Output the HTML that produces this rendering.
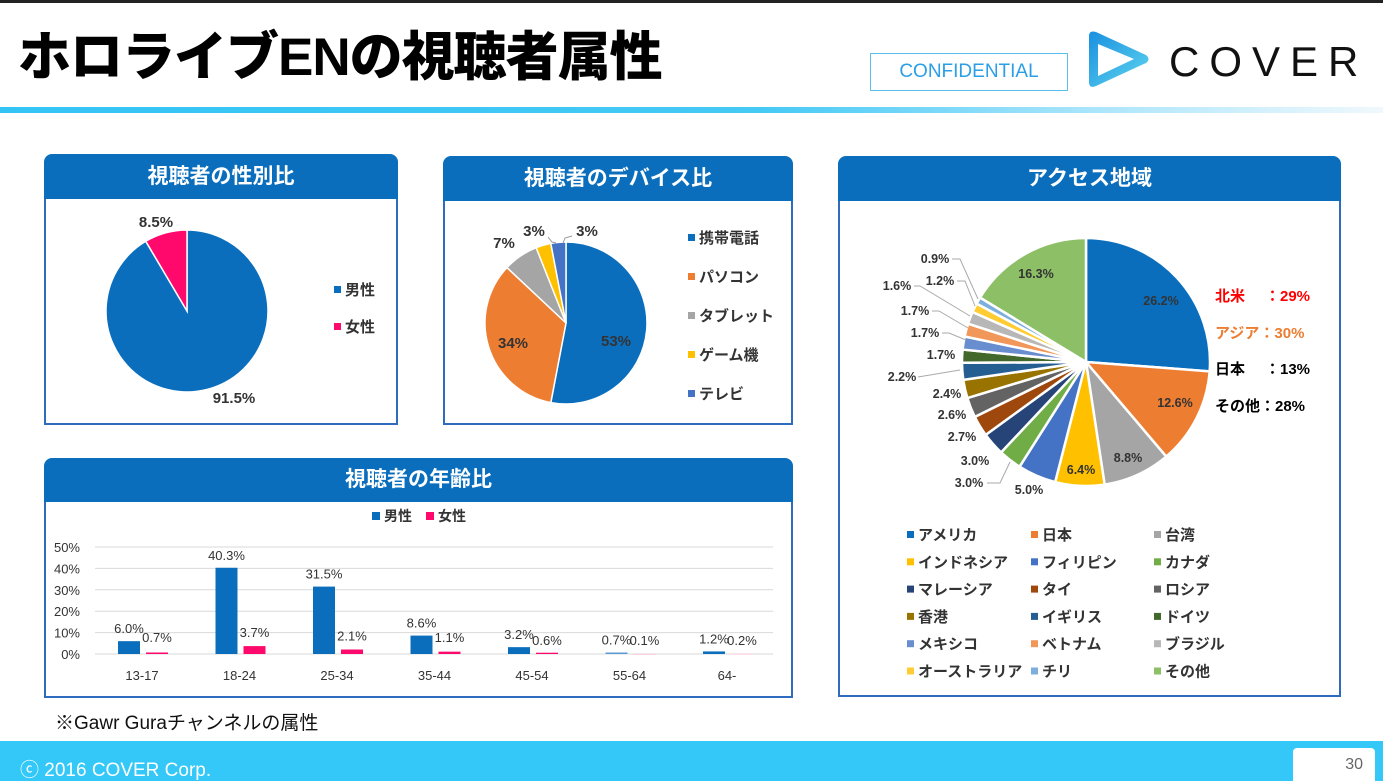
<!DOCTYPE html>
<html><head><meta charset="utf-8"><style>
body{margin:0;width:1383px;height:781px;overflow:hidden;background:#fff;font-family:"Liberation Sans","Noto Sans CJK JP",sans-serif;position:relative}
.abs{position:absolute}
.panel{position:absolute;border:2px solid #2f6cc0;border-top:none;background:#fff;box-sizing:border-box}
.hdr{position:absolute;background:#0a6ebd;border-radius:8px 8px 0 0;color:#fff;font-weight:bold;font-size:21px;text-align:center;box-sizing:border-box}
svg text{font-family:"Liberation Sans","Noto Sans CJK JP",sans-serif}
</style></head><body>
<div class="abs" style="left:18px;top:0;width:1383px;height:3px;background:#222;left:0"></div>
<div class="abs" style="left:18px;top:23px;font-size:53px;font-weight:900;color:#000;letter-spacing:-1px;line-height:70px">ホロライブENの視聴者属性</div>
<div class="abs" style="left:0;top:107px;width:1383px;height:6px;background:linear-gradient(90deg,#33c4f5 0%,#45c9f5 55%,#aee6fb 80%,#f0f8fc 100%)"></div>
<div class="abs" style="left:870px;top:53px;width:198px;height:38px;border:1.5px solid #5bbff0;box-sizing:border-box;color:#2a9fe6;font-size:19px;text-align:center;line-height:36px">CONFIDENTIAL</div>
<svg class="abs" style="left:1086px;top:30px" width="66" height="60" viewBox="0 0 66 60">
<defs><linearGradient id="lg" x1="0" y1="0" x2="1" y2="1"><stop offset="0" stop-color="#1a8fe0"/><stop offset="1" stop-color="#5ed6ee"/></linearGradient></defs>
<path d="M3 6 Q3 0 10 2 L60 25 Q65 29 60 33 L10 56 Q3 59 3 52 Z M12 14 L12 46 L48 29 Z" fill="url(#lg)" fill-rule="evenodd"/></svg>
<div class="abs" style="left:1169px;top:38px;font-size:42px;letter-spacing:10px;color:#111;line-height:48px">COVER</div>

<div class="panel" style="left:44px;top:197px;width:354px;height:228px"></div>
<div class="hdr" style="left:44px;top:154px;width:354px;height:45px;line-height:45px">視聴者の性別比</div>
<div class="panel" style="left:443px;top:199px;width:350px;height:226px"></div>
<div class="hdr" style="left:443px;top:156px;width:350px;height:45px;line-height:45px">視聴者のデバイス比</div>
<div class="panel" style="left:838px;top:199px;width:503px;height:498px"></div>
<div class="hdr" style="left:838px;top:156px;width:503px;height:45px;line-height:45px">アクセス地域</div>
<div class="panel" style="left:44px;top:500px;width:749px;height:198px"></div>
<div class="hdr" style="left:44px;top:458px;width:749px;height:44px;line-height:44px">視聴者の年齢比</div>

<svg class="abs" style="left:0;top:0" width="1383" height="781" id="s"></svg>

<div class="abs" style="left:55px;top:708px;font-size:19px;color:#111">※Gawr Guraチャンネルの属性</div>
<div class="abs" style="left:0;top:741px;width:1383px;height:40px;background:#33c8f8"></div>
<div class="abs" style="left:20px;top:755px;font-size:19px;color:#fff">ⓒ 2016 COVER Corp.</div>
<div class="abs" style="left:1293px;top:748px;width:82px;height:33px;background:#fff;border-radius:4px 4px 0 0;color:#666;font-size:16px;text-align:right;box-sizing:border-box;padding:8px 12px 0 0">30</div>

<script>
var s=document.getElementById('s'),h='';
function pie(cx,cy,r,data,sw){var a=0;data.forEach(function(d){var a0=a/100*2*Math.PI,a1=(a+d[0])/100*2*Math.PI;a+=d[0];
var x0=cx+r*Math.sin(a0),y0=cy-r*Math.cos(a0),x1=cx+r*Math.sin(a1),y1=cy-r*Math.cos(a1);
h+='<path d="M'+cx+' '+cy+' L'+x0.toFixed(2)+' '+y0.toFixed(2)+' A'+r+' '+r+' 0 '+(d[0]>50?1:0)+' 1 '+x1.toFixed(2)+' '+y1.toFixed(2)+' Z" fill="'+d[1]+'" stroke="#fff" stroke-width="'+sw+'"/>';});}
function t(x,y,str,o){o=o||{};h+='<text x="'+x+'" y="'+y+'" font-size="'+(o.fs||15)+'" font-weight="'+(o.fw||'bold')+'" fill="'+(o.c||'#333')+'" text-anchor="'+(o.a||'middle')+'">'+str+'</text>';}
function sq(x,y,c,sz){sz=sz||7;h+='<rect x="'+x+'" y="'+y+'" width="'+sz+'" height="'+sz+'" fill="'+c+'"/>';}
pie(187,311,81,[[91.5,'#0a6ebd'],[8.5,'#ff0a6c']],1.5);
t(156,227,'8.5%');t(234,403,'91.5%');
sq(334,286,'#0a6ebd');t(345,295,'男性',{a:'start'});sq(334,323,'#ff0a6c');t(345,332,'女性',{a:'start'});
pie(566,323,81,[[53,'#0a6ebd'],[34,'#ed7d31'],[7,'#a5a5a5'],[3,'#ffc000'],[3,'#4472c4']],1.5);
t(616,346,'53%');t(513,348,'34%');t(504,248,'7%');t(534,236,'3%');t(587,236,'3%');
h+='<polyline points="548,237 552,242 556,243" fill="none" stroke="#999"/><polyline points="572,236 565,238 563,243" fill="none" stroke="#999"/>';
var dev=[['携帯電話','#0a6ebd'],['パソコン','#ed7d31'],['タブレット','#a5a5a5'],['ゲーム機','#ffc000'],['テレビ','#4472c4']];
dev.forEach(function(d,i){sq(688,234+i*39,d[1]);t(699,243+i*39,d[0],{a:'start'});});
var acc=[[26.2,'#0a6ebd'],[12.6,'#ed7d31'],[8.8,'#a5a5a5'],[6.4,'#ffc000'],[5.0,'#4472c4'],[3.0,'#70ad47'],[3.0,'#264478'],[2.7,'#9e480e'],[2.6,'#636363'],[2.4,'#997300'],[2.2,'#255e91'],[1.7,'#43682b'],[1.7,'#698ed0'],[1.7,'#f1975a'],[1.6,'#b7b7b7'],[1.2,'#ffcd33'],[0.9,'#7cafdd'],[16.3,'#8cbf66']];
pie(1086,362,124,acc,2.5);
var o={fs:12.5};
t(1161,305,'26.2%',o);t(1175,407,'12.6%',o);t(1128,462,'8.8%',o);t(1081,474,'6.4%',o);t(1029,494,'5.0%',o);
t(1036,278,'16.3%',o);
var L=[[935,263,'0.9%'],[940,285,'1.2%'],[897,290,'1.6%'],[915,315,'1.7%'],[925,337,'1.7%'],[941,359,'1.7%'],[902,381,'2.2%'],[947,398,'2.4%'],[952,419,'2.6%'],[962,441,'2.7%'],[975,465,'3.0%'],[969,487,'3.0%']];
L.forEach(function(l){t(l[0],l[1],l[2],o);});
h+='<g fill="none" stroke="#aaa" stroke-width="1"><polyline points="952,259 960,259 978,299"/><polyline points="957,281 965,281 975,306"/><polyline points="914,286 920,286 970,316"/><polyline points="932,311 939,311 968,328"/><polyline points="942,333 949,333 966,340"/><polyline points="918,377 960,370"/><polyline points="987,483 1000,483 1010,462"/></g>';
t(1215,301,'北米',{c:'#ff0000',a:'start'});t(1265,301,'：29%',{c:'#ff0000',a:'start'});
t(1215,338,'アジア：30%',{c:'#ed7d31',a:'start'});
t(1215,374,'日本',{c:'#000',a:'start'});t(1265,374,'：13%',{c:'#000',a:'start'});
t(1215,411,'その他：28%',{c:'#000',a:'start'});
var leg=[['アメリカ','#0a6ebd'],['日本','#ed7d31'],['台湾','#a5a5a5'],['インドネシア','#ffc000'],['フィリピン','#4472c4'],['カナダ','#70ad47'],['マレーシア','#264478'],['タイ','#9e480e'],['ロシア','#636363'],['香港','#997300'],['イギリス','#255e91'],['ドイツ','#43682b'],['メキシコ','#698ed0'],['ベトナム','#f1975a'],['ブラジル','#b7b7b7'],['オーストラリア','#ffcd33'],['チリ','#7cafdd'],['その他','#8cbf66']];
var cx=[907,1031,1154];
leg.forEach(function(d,i){var x=cx[i%3],y=531+Math.floor(i/3)*27.3;sq(x,y,d[1]);t(x+11,y+9,d[0],{a:'start'});});
for(var g=0;g<=5;g++){var y=654-g*21.4;h+='<line x1="95" x2="773" y1="'+y+'" y2="'+y+'" stroke="#d9d9d9"/>';t(80,y+5,(g*10)+'%',{fs:13,fw:'normal',a:'end'});}
var cats=['13-17','18-24','25-34','35-44','45-54','55-64','64-'];
var m=[6.0,40.3,31.5,8.6,3.2,0.7,1.2],f=[0.7,3.7,2.1,1.1,0.6,0.1,0.2];
cats.forEach(function(c,i){var x=142+i*97.5;
var hm=m[i]*2.14,hf=f[i]*2.14;
h+='<rect x="'+(x-24)+'" y="'+(654-hm)+'" width="22" height="'+hm+'" fill="'+(i==5?'#5b9bd5':'#0a6ebd')+'"/>';
h+='<rect x="'+(x+4)+'" y="'+(654-hf)+'" width="22" height="'+Math.max(hf,1)+'" fill="'+(i>=5?'#f7c6d6':'#ff0a6c')+'"/>';
t(x-13,654-hm-8,m[i].toFixed(1)+'%',{fs:13,fw:'normal'});
t(x+15,654-Math.max(hf,3)-9+(i>=4?3:0),f[i].toFixed(1)+'%',{fs:13,fw:'normal'});
t(x,680,c,{fs:13,fw:'normal'});});
sq(372,512,'#0a6ebd',8);t(384,521,'男性',{a:'start',fs:14});sq(426,512,'#ff0a6c',8);t(438,521,'女性',{a:'start',fs:14});
s.innerHTML=h;
</script>
</body></html>
